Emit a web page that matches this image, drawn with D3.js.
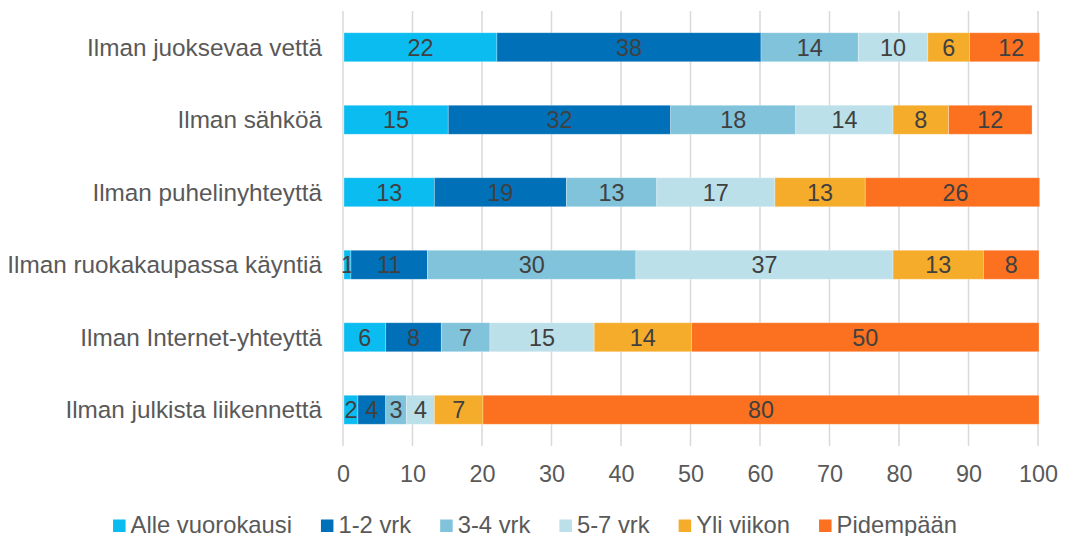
<!DOCTYPE html>
<html>
<head>
<meta charset="utf-8">
<script src="https://cdn.jsdelivr.net/npm/d3@7"></script>
<style>
  body { margin: 0; background: #fff; }
  svg { display: block; font-family: "Liberation Sans", Arial, sans-serif; }
</style>
</head>
<body>
<div id="container"></div>
<script>
const categories = [
  "Ilman juoksevaa vettä",
  "Ilman sähköä",
  "Ilman puhelinyhteyttä",
  "Ilman ruokakaupassa käyntiä",
  "Ilman Internet-yhteyttä",
  "Ilman julkista liikennettä"
];
const seriesNames = ["Alle vuorokausi", "1-2 vrk", "3-4 vrk", "5-7 vrk", "Yli viikon", "Pidempään"];
const seriesColors = ["#0BBCF0", "#0070B8", "#80C3DB", "#BBE0EA", "#F6AC2B", "#FB711F"];

const alleVuorokausi = [22, 15, 13, 1, 6, 2];
const vrk12 = [38, 32, 19, 11, 8, 4];
const vrk34 = [14, 18, 13, 30, 7, 3];
const vrk57 = [10, 14, 17, 37, 15, 4];
const yliViikon = [6, 8, 13, 13, 14, 7];
const pidempaan = [12, 12, 26, 8, 50, 80];
const xTicks = [0, 10, 20, 30, 40, 50, 60, 70, 80, 90, 100];

const seriesValues = [alleVuorokausi, vrk12, vrk34, vrk57, yliViikon, pidempaan];

const width = 1068, height = 536;
const margin = { top: 11, right: 30, bottom: 90, left: 343 };
const fontSize = 23.8;

const svg = d3.select("#container")
  .append("svg")
  .attr("width", width)
  .attr("height", height);

const x = d3.scaleLinear()
  .domain([0, 100])
  .range([margin.left, 1038]);

const y = d3.scaleBand()
  .domain(categories)
  .range([margin.top, height - margin.bottom])
  .paddingInner(0.6)
  .paddingOuter(0.3);

// gridlines
svg.append("g")
  .selectAll("line")
  .data(xTicks)
  .enter()
  .append("line")
  .attr("x1", d => x(d))
  .attr("x2", d => x(d))
  .attr("y1", margin.top)
  .attr("y2", height - margin.bottom)
  .attr("stroke", "#d9d9d9")
  .attr("stroke-width", 1.5);

// stack the rows
const rows = categories.map((c, i) => {
  const row = { category: c };
  seriesNames.forEach((s, j) => { row[s] = seriesValues[j][i]; });
  return row;
});
const stacked = d3.stack().keys(seriesNames)(rows);

// clip at axis max like the original
svg.append("clipPath")
  .attr("id", "plotclip")
  .append("rect")
  .attr("x", x(0))
  .attr("y", 0)
  .attr("width", x(100) - x(0) + 1.5)
  .attr("height", height);

const layers = svg.append("g")
  .selectAll("g")
  .data(stacked)
  .enter()
  .append("g")
  .attr("fill", (d, i) => seriesColors[i]);

layers.selectAll("rect")
  .data(d => d)
  .enter()
  .append("rect")
  .attr("clip-path", "url(#plotclip)")
  .attr("x", d => x(d[0]) + 1)
  .attr("y", d => y(d.data.category))
  .attr("width", d => Math.max(0, x(d[1]) - x(d[0])))
  .attr("height", y.bandwidth())
  .attr("stroke", "#fff")
  .attr("stroke-opacity", 0.35)
  .attr("stroke-width", 0.8);

// data labels at segment centres
layers.selectAll("text")
  .data(d => d)
  .enter()
  .append("text")
  .attr("x", d => x((d[0] + d[1]) / 2) + 1)
  .attr("y", d => y(d.data.category) + y.bandwidth() / 2)
  .attr("dy", "0.36em")
  .attr("text-anchor", "middle")
  .attr("fill", "#404040")
  .attr("font-size", 23.4)
  .text(d => d[1] - d[0]);

// category labels
svg.append("g")
  .selectAll("text")
  .data(categories)
  .enter()
  .append("text")
  .attr("x", 322)
  .attr("y", d => y(d) + y.bandwidth() / 2)
  .attr("dy", "0.36em")
  .attr("text-anchor", "end")
  .attr("fill", "#595959")
  .attr("font-size", 24.3)
  .text(d => d);

// x axis
const xAxis = d3.axisBottom(x)
  .tickValues(xTicks)
  .tickSize(0)
  .tickPadding(19);

const axisG = svg.append("g")
  .attr("transform", `translate(0, ${height - margin.bottom})`)
  .call(xAxis);
axisG.select(".domain").remove();
axisG.selectAll("text")
  .attr("fill", "#595959")
  .attr("font-size", 23.4)
  .attr("font-family", "Liberation Sans, Arial, sans-serif");

// legend
const legend = svg.append("g");
const items = legend.selectAll("g")
  .data(seriesNames)
  .enter()
  .append("g");

items.append("rect")
  .attr("width", 12.5)
  .attr("height", 12.5)
  .attr("y", 519.5)
  .attr("fill", (d, i) => seriesColors[i]);

items.append("text")
  .attr("x", 17.5)
  .attr("y", 533)
  .attr("fill", "#595959")
  .attr("font-size", fontSize)
  .text(d => d);

const gap = 29;
let offset = 0;
const widths = [];
items.each(function () {
  const w = 17.5 + d3.select(this).select("text").node().getComputedTextLength();
  widths.push(w);
});
const total = d3.sum(widths) + gap * (widths.length - 1);
offset = (width - total) / 2 + 1;
items.attr("transform", (d, i) => {
  const t = `translate(${offset}, 0)`;
  offset += widths[i] + gap;
  return t;
});
</script>
</body>
</html>
